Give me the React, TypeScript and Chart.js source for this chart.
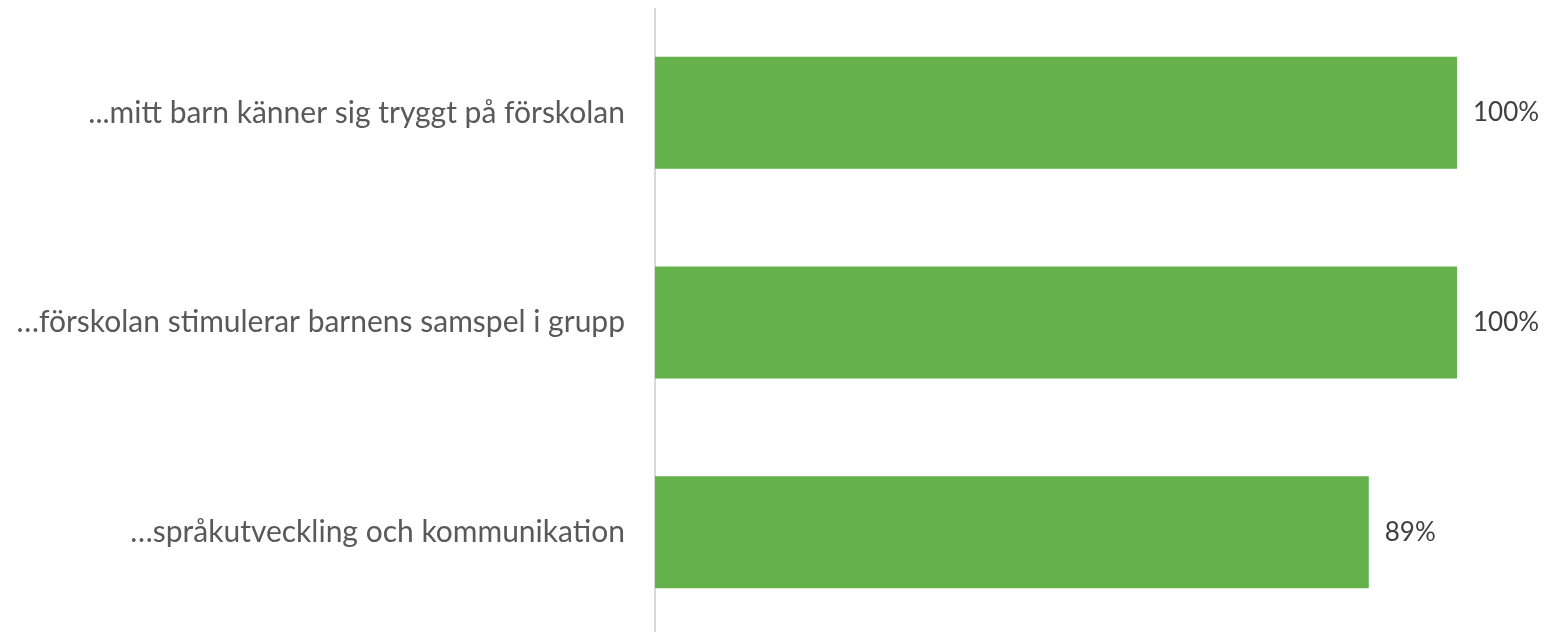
import React, { useEffect, useRef } from "react";
import { Chart, registerables } from "chart.js";

Chart.register(...registerables);

const categories = [
  "...mitt barn känner sig tryggt på förskolan",
  "…förskolan stimulerar barnens samspel i grupp",
  "…språkutveckling och kommunikation",
];
const values = [100, 100, 89];

const FONT = "Lato";

const valueLabels = {
  id: "valueLabels",
  afterDatasetsDraw(chart: any) {
    const ctx = chart.ctx;
    const meta = chart.getDatasetMeta(0);
    ctx.save();
    ctx.font = `26px ${FONT}`;
    ctx.fillStyle = "#404040";
    ctx.textAlign = "left";
    ctx.textBaseline = "middle";
    meta.data.forEach((bar: any, i: number) => {
      ctx.fillText(values[i] + "%", bar.x + 16, bar.y);
    });
    ctx.restore();
  },
};

export default function App() {
  const ref = useRef<HTMLCanvasElement>(null);
  useEffect(() => {
    const chart = new Chart(ref.current!, {
      type: "bar",
      data: {
        labels: categories,
        datasets: [
          {
            data: values,
            backgroundColor: "#65B24D",
            barPercentage: 0.534,
            categoryPercentage: 1,
          },
        ],
      },
      options: {
        indexAxis: "y",
        animation: false,
        responsive: false,
        maintainAspectRatio: false,
        layout: { padding: { top: 0, bottom: 0, left: 0, right: 87 } },
        plugins: { legend: { display: false }, tooltip: { enabled: false } },
        scales: {
          x: {
            min: 0,
            max: 100,
            display: false,
            grid: { display: false },
          },
          y: {
            afterFit: (axis: any) => {
              axis.width = 655;
              axis.paddingTop = 0;
              axis.paddingBottom = 0;
            },
            grid: { display: false, drawTicks: false },
            border: { display: true, color: "#D9D9D9", width: 2 },
            ticks: {
              padding: 30,
              color: "#595959",
              font: { family: FONT, size: 30 },
            },
          },
        },
      },
      plugins: [valueLabels],
    });
    return () => chart.destroy();
  }, []);
  return (
    <div style={{ position: "fixed", left: 0, top: 0, width: 1544, height: 632, overflow: "hidden", background: "#fff" }}>
      <canvas
        ref={ref}
        width={1544}
        height={629}
        style={{ position: "absolute", left: 0, top: 8, width: 1544, height: 629 }}
      />
    </div>
  );
}
